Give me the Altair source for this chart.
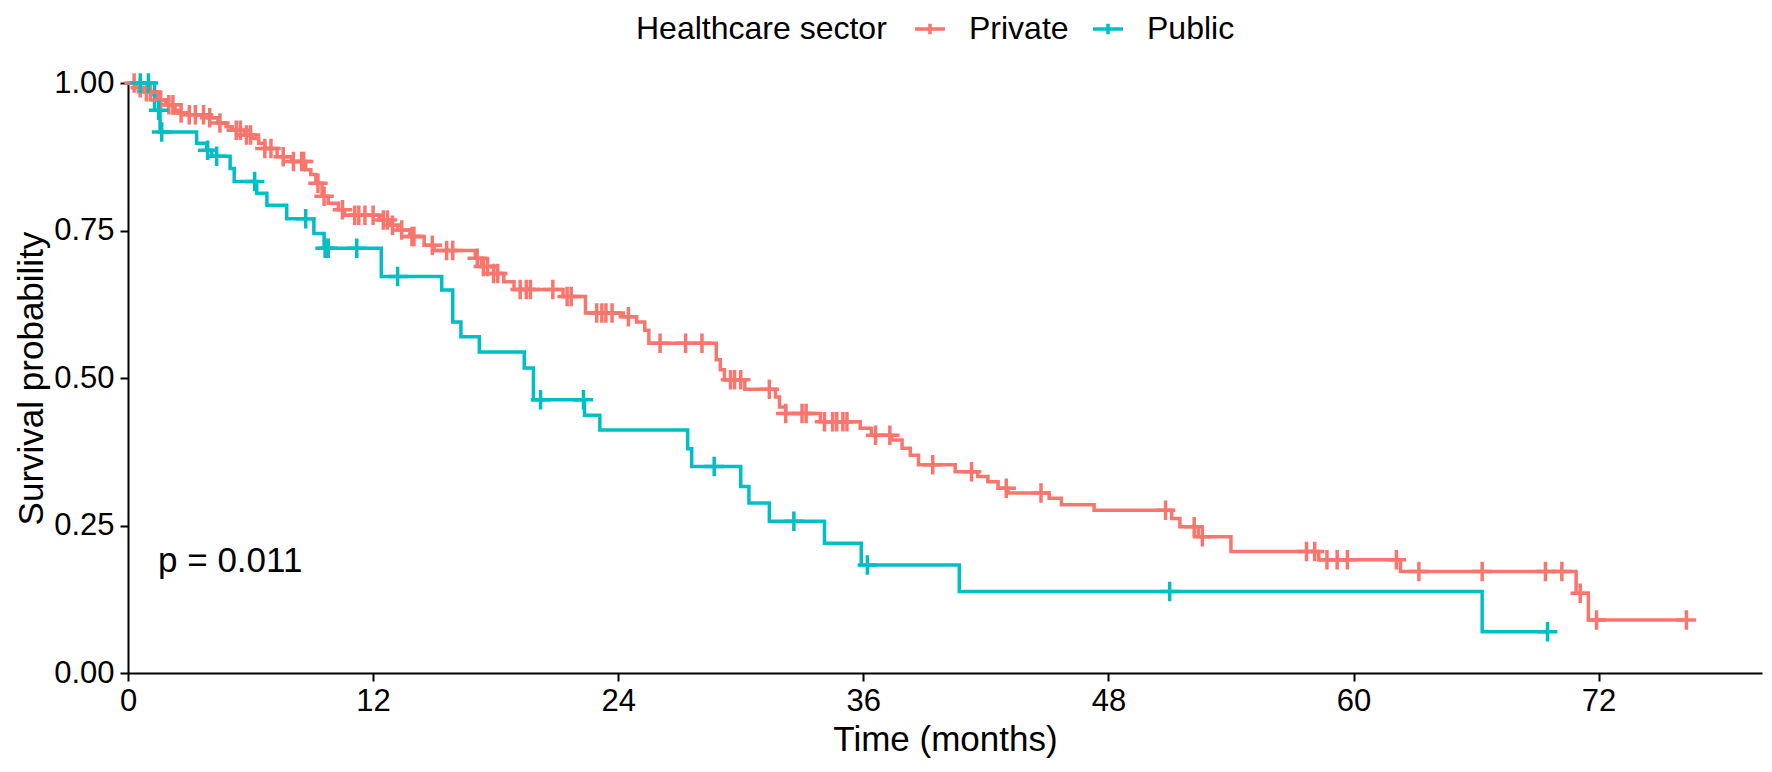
import altair as alt
import pandas as pd

groups = ["Private", "Public"]
colors = ["#F8766D", "#00BFC4"]

# Kaplan-Meier step points (time in months, survival after the step)
private_t = [0, 0.4, 0.75, 1.2, 1.45, 1.85, 2.3, 2.5, 3.0, 3.9, 4.4, 4.8, 5.1, 5.7, 6.1, 6.4, 6.7,
             7.3, 8.0, 8.7, 8.95, 9.2, 9.5, 9.8, 10.3, 10.6, 12.3, 12.8, 13.2, 13.8, 14.5, 15.0,
             17.0, 17.3, 17.9, 18.4, 18.9, 21.3, 22.4, 24.25, 24.9, 25.3, 25.5, 28.8, 29.0, 29.2,
             30.2, 31.7, 31.9, 32.2, 33.9, 35.85, 36.4, 37.4, 37.9, 38.3, 38.7, 40.5, 41.6, 42.1,
             42.6, 43.1, 45.1, 45.7, 47.3, 51.1, 51.5, 52.4, 54.0, 58.3, 62.3, 70.9, 71.5, 76.3]
private_s = [1.0, 0.992, 0.985, 0.980, 0.971, 0.963, 0.954, 0.949, 0.946, 0.941, 0.932, 0.926,
             0.920, 0.912, 0.906, 0.898, 0.889, 0.875, 0.867, 0.853, 0.845, 0.830, 0.808, 0.796,
             0.785, 0.776, 0.768, 0.759, 0.751, 0.740, 0.725, 0.716, 0.703, 0.689, 0.677, 0.663,
             0.650, 0.638, 0.610, 0.604, 0.595, 0.581, 0.559, 0.531, 0.514, 0.497, 0.481, 0.468,
             0.451, 0.440, 0.426, 0.415, 0.403, 0.395, 0.381, 0.369, 0.353, 0.341, 0.333, 0.324,
             0.313, 0.305, 0.296, 0.285, 0.276, 0.262, 0.248, 0.231, 0.206, 0.192, 0.172, 0.135,
             0.090, 0.090]
private_cens = [0.3, 0.6, 0.9, 1.1, 1.6, 2.0, 2.2, 2.6, 3.0, 3.3, 3.7, 4.0, 4.5, 5.3, 5.5, 5.8,
                6.0, 6.7, 7.0, 7.6, 8.1, 8.5, 8.6, 9.3, 9.6, 10.5, 11.1, 11.3, 11.6, 12.0, 12.5,
                12.7, 12.95, 13.4, 13.9, 14.0, 14.9, 15.6, 15.9, 17.1, 17.4, 17.6, 17.9, 18.1,
                19.2, 19.5, 19.7, 20.8, 21.5, 21.7, 22.95, 23.2, 23.4, 23.7, 24.5, 26.05, 27.3,
                28.1, 29.5, 29.7, 30.0, 31.4, 32.2, 33.0, 33.2, 34.1, 34.5, 34.7, 35.0, 35.2,
                36.6, 37.3, 39.4, 41.3, 43.0, 44.7, 50.8, 52.2, 52.6, 57.7, 58.1, 58.7, 59.2,
                59.7, 62.1, 63.2, 66.3, 69.4, 70.2, 71.1, 71.9, 76.3]

public_t = [0, 1.3, 1.57, 3.36, 3.85, 4.1, 5.0, 5.2, 6.3, 6.8, 7.77, 9.1, 9.6, 12.4, 15.36,
            15.9, 16.3, 17.2, 19.4, 19.85, 22.35, 23.1, 27.4, 27.6, 30.0, 30.4, 31.4, 34.1,
            35.9, 40.7, 66.3, 69.5]
public_s = [1.0, 0.954, 0.917, 0.898, 0.886, 0.876, 0.855, 0.833, 0.813, 0.793, 0.770, 0.745,
            0.720, 0.672, 0.649, 0.595, 0.570, 0.544, 0.517, 0.463, 0.437, 0.412, 0.380, 0.350,
            0.316, 0.288, 0.257, 0.220, 0.183, 0.138, 0.070, 0.070]
public_cens = [0.6, 1.0, 1.5, 1.65, 3.9, 4.34, 6.2, 8.7, 9.65, 9.8, 11.2, 13.2, 20.2, 22.3,
               28.7, 32.6, 36.2, 51.0, 69.5]

pval_text = ["p = 0.011"]
pval_pos = [1.47, 0.19]

x_ticks = [0, 12, 24, 36, 48, 60, 72]
y_ticks = [0, 0.25, 0.5, 0.75, 1.0]


def step_value(ts, ss, t):
    v = ss[0]
    for ti, si in zip(ts, ss):
        if ti <= t:
            v = si
    return v


rows = []
for g, ts, ss in [("Private", private_t, private_s), ("Public", public_t, public_s)]:
    for t, s in zip(ts, ss):
        rows.append({"group": g, "time": t, "surv": s})
curves = pd.DataFrame(rows)

crow = []
for g, ts, ss, cs in [("Private", private_t, private_s, private_cens),
                      ("Public", public_t, public_s, public_cens)]:
    for c in cs:
        crow.append({"group": g, "time": c, "surv": step_value(ts, ss, c)})
cens = pd.DataFrame(crow)

pdf = pd.DataFrame({"time": [pval_pos[0]], "surv": [pval_pos[1]], "label": pval_text})

FONT = "Liberation Sans"

xscale = alt.Scale(domain=[0, 80], nice=False, zero=False)
yscale = alt.Scale(domain=[0, 1], nice=False)
cscale = alt.Scale(domain=groups, range=colors)

xaxis = alt.Axis(values=x_ticks, title="Time (months)", labelFlush=False, grid=False,
                 labelFontSize=31, titleFontSize=35, titleFontWeight="normal",
                 tickSize=8, labelPadding=5, titlePadding=6)
yaxis = alt.Axis(values=y_ticks, format=".2f", title="Survival probability", grid=False,
                 labelFontSize=31, titleFontSize=35, titleFontWeight="normal",
                 tickSize=8, labelPadding=6, titlePadding=4)

legend = alt.Legend(title="Healthcare sector", orient="none", direction="horizontal",
                    legendX=508, legendY=-71, titleOrient="left", titleFontSize=32,
                    titleFontWeight="normal", labelFontSize=32, titlePadding=26,
                    labelOffset=22, columnPadding=17, titleLimit=600, labelLimit=400,
                    symbolType="M-1,0H1M0,-0.35V0.35", symbolSize=900,
                    symbolStrokeWidth=3.5, symbolFillColor="transparent")

lines = alt.Chart(curves).mark_line(interpolate="step-after", strokeWidth=3.5).encode(
    x=alt.X("time:Q", scale=xscale, axis=xaxis),
    y=alt.Y("surv:Q", scale=yscale, axis=yaxis),
    color=alt.Color("group:N", scale=cscale, legend=legend),
)

marks = alt.Chart(cens).mark_point(shape="M-1,0H1M0,-1V1", size=380, strokeWidth=3.5,
                                   filled=False, opacity=1).encode(
    x=alt.X("time:Q", scale=xscale),
    y=alt.Y("surv:Q", scale=yscale),
    color=alt.Color("group:N", scale=cscale, legend=None),
)

ptext = alt.Chart(pdf).mark_text(align="left", baseline="middle", fontSize=35,
                                 font=FONT, color="black").encode(
    x=alt.X("time:Q", scale=xscale),
    y=alt.Y("surv:Q", scale=yscale),
    text="label:N",
)

chart = alt.layer(lines, marks, ptext).properties(
    width=1634, height=590,
    padding={"left": 120, "top": 75, "right": 2, "bottom": 91},
    autosize=alt.AutoSizeParams(type="none"),
    background="white",
).configure(font=FONT).configure_view(stroke=None).configure_axis(
    domainColor="black", domainWidth=2, tickColor="black", tickWidth=2,
    labelColor="black", titleColor="black", labelFont=FONT, titleFont=FONT,
).configure_legend(labelFont=FONT, titleFont=FONT, labelColor="black", titleColor="black")

chart.save("out.html", embed_options={"renderer": "svg", "actions": False})
